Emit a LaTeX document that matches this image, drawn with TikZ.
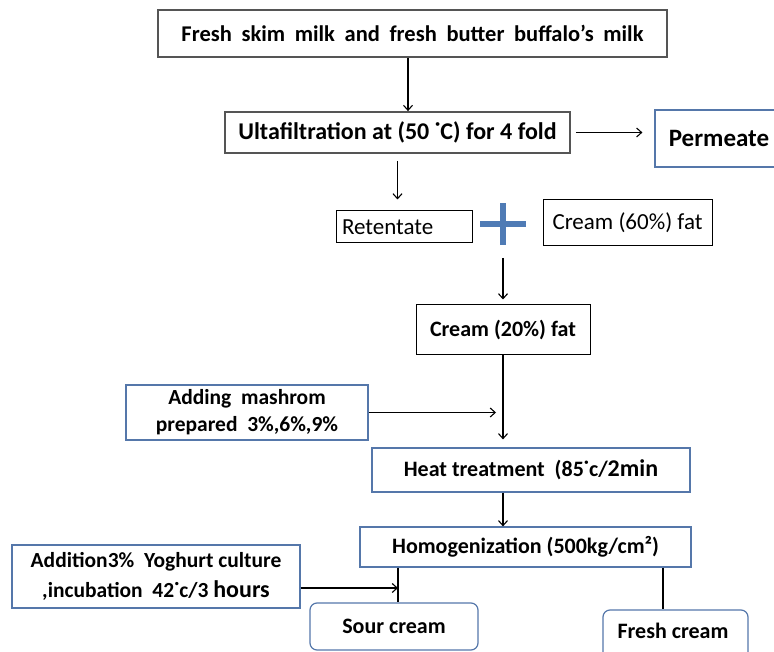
\documentclass[tikz,border=0pt]{standalone}
\usepackage{fontspec}
\setmainfont{Carlito}
\newfontfamily\widefont[WordSpace=1.9]{Carlito}
\usetikzlibrary{arrows.meta}
\definecolor{bluebd}{HTML}{5577AA}
\definecolor{plusblue}{HTML}{4F7BB5}
\definecolor{graybd}{HTML}{555555}
\tikzset{
  box/.style={draw, rectangle, inner sep=0pt, align=center},
  graybox/.style={box, draw=graybd, line width=1.8pt},
  blackbox/.style={box, draw=black, line width=1pt},
  bluebox/.style={box, draw=bluebd, line width=1.2pt},
  roundbox/.style={bluebox, rounded corners=7pt},
  arr/.style={-{Straight Barb[length=5pt,width=9pt]}, line width=1.1pt},
  ln/.style={line width=1.1pt},
  bf/.style={font=\fontsize{22}{28}\selectfont\bfseries},
  rm/.style={font=\fontsize{23}{26}\selectfont},
}
\begin{document}
\begin{tikzpicture}[x=1pt,y=-1pt]
\useasboundingbox (0,0) rectangle (774,652);
\clip (0,0) rectangle (774,652);

\node[graybox, font=\widefont\fontsize{22.5}{26}\selectfont\bfseries, minimum width=509, minimum height=47] (title) at (412.5,33.5) {Fresh skim milk and fresh butter buffalo’s milk};
\node[graybox, font=\fontsize{24}{28}\selectfont\bfseries, minimum width=345, minimum height=41] (ultra) at (397.5,132.5) {Ultafiltration at (50 ˙C) for 4 fold};
\node[bluebox, font=\fontsize{25}{28}\selectfont\bfseries, minimum width=128, minimum height=57] (perm) at (719,138.5) {Permeate};
\node[blackbox, rm, minimum height=32, text width=124, align=left, inner xsep=6pt] (ret) at (404,227) {Retentate};
\coordinate (plus) at (503,224);
\node[blackbox, rm, minimum width=169, minimum height=46] (c60) at (627.5,223) {Cream (60\%) fat};
\node[blackbox, bf, minimum width=174, minimum height=50] (c20) at (503,330) {Cream (20\%) fat};
\node[bluebox, font=\fontsize{21.5}{27}\selectfont\bfseries, minimum width=242, minimum height=55] (add) at (247,412.5) {Adding\ \ mashrom\\prepared\ \ 3\%,6\%,9\%};
\node[bluebox, bf, minimum width=318, minimum height=44] (heat) at (531,470) {Heat treatment\ \ (85˙c/{\fontsize{24}{28}\selectfont 2min}};
\node[bluebox, bf, minimum width=331, minimum height=40] (homog) at (525.5,547) {Homogenization (500kg/cm²)};
\node[bluebox, font=\fontsize{21.5}{30}\selectfont\bfseries, minimum width=288, minimum height=63] (addn) at (156,576.5) {Addition3\%\ \ Yoghurt culture\\,incubation\ \ 42˙c/3 {\fontsize{24}{28}\selectfont hours}};
\node[roundbox, bf, minimum width=168, minimum height=47] (sour) at (394,626.5) {Sour cream};
\node[roundbox, bf, minimum width=145, minimum height=50] (fresh) at (675.5,635) {};
\node[bf] (freshtxt) at (673,631) {Fresh cream};
\coordinate (sourtop) at ([xshift=4]sour.north);
\coordinate (freshtop) at ([xshift=-12.5]fresh.north);

% plus sign
\draw[plusblue, line width=6pt] ([xshift=-23]plus) -- ([xshift=23]plus);
\draw[plusblue, line width=6pt] ([yshift=-21]plus) -- ([yshift=21]plus);

% connectors
\draw[arr] ([xshift=-4.5]title.south) -- ([xshift=-4.5]title.south |- ultra.north);
\draw[arr] ([xshift=5]ultra.east) -- ([xshift=-12]perm.west |- ultra.east);
\draw[arr] ([yshift=-7]ultra.south) -- ([yshift=11]ultra.south |- ret.north);
\draw[arr] ([yshift=-34]plus) -- ([yshift=5]c20.north);
\draw[arr] (c20.south) -- ([yshift=8]c20.south |- heat.north);
\draw[arr] (add.east) -- ([xshift=-7]add.east -| c20.south);
\draw[arr] (c20.south |- heat.south) -- (c20.south |- homog.north);
\draw[ln] (sourtop |- homog.south) -- (sourtop);
\draw[arr] ([yshift=-11.5]addn.east) -- ([yshift=-11.5]addn.east -| sourtop);
\draw[ln] (freshtop |- homog.south) -- (freshtop);
\end{tikzpicture}
\end{document}
